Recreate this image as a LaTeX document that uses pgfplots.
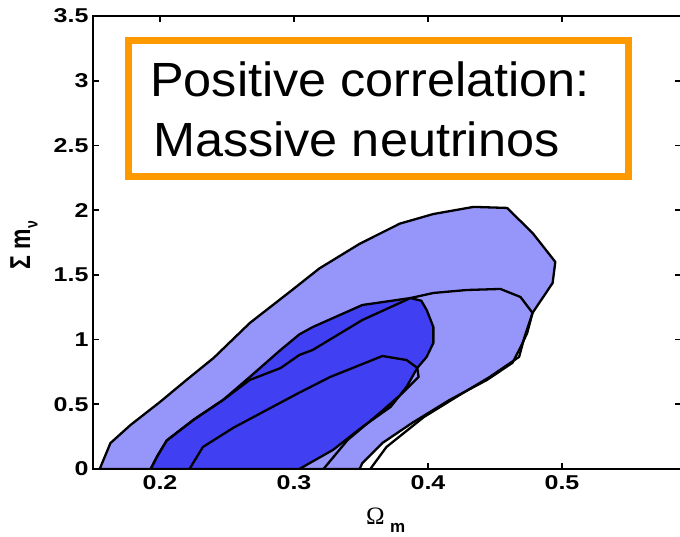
\documentclass[border=0pt]{standalone}
\usepackage{fontspec}
\usepackage{graphicx}
\usepackage{pgfplots}
\pgfplotsset{compat=1.18}
\setmainfont{Liberation Sans}
\newfontfamily\tickfont[FakeStretch=1.25]{Liberation Sans}
\newfontfamily\boxfont[FakeStretch=1.05]{Liberation Sans}
\newfontfamily\seriffont{Liberation Serif}
\definecolor{lightfill}{RGB}{150,150,250}
\definecolor{darkfill}{RGB}{64,64,242}
\definecolor{boxorange}{RGB}{255,153,0}

\begin{document}
\begin{tikzpicture}[x=1pt,y=1pt]
\begin{axis}[
  at={(93pt,68pt)}, anchor=south west,
  scale only axis, width=588pt, height=453pt,
  xmin=0.15, xmax=0.5888, ymin=0, ymax=3.5,
  xtick={0.2,0.3,0.4,0.5},
  ytick={0,0.5,1,1.5,2,2.5,3,3.5},
  tick align=inside, major tick length=6pt,
  axis line style={line width=2.6pt},
  every tick/.style={black, line width=1.8pt},
  /pgf/number format/assume math mode=true,
  tick label style={font=\tickfont\bfseries\fontsize{20}{20}\selectfont},
  xticklabel style={yshift=-3pt},
  yticklabel style={xshift=-1pt},
  clip=true,
]
% outer light region (95%)
\addplot[fill=lightfill, draw=black, line width=2.3pt, line join=round] coordinates {
(0.155,0) (0.159,0.1) (0.163,0.2) (0.178,0.34) (0.2,0.518) (0.22,0.69) (0.24,0.858)
(0.267,1.128) (0.297,1.37) (0.319,1.55) (0.349,1.74) (0.379,1.896) (0.404,1.97)
(0.434,2.025) (0.459,2.017) (0.478,1.824) (0.495,1.6) (0.493,1.437) (0.478,1.206)
(0.474,1.05) (0.469,0.94) (0.463,0.82) (0.444,0.688) (0.416,0.533) (0.388,0.355)
(0.366,0.201) (0.351,0.046) (0.349,0) (0.155,0)
};
% inner dark region (68%)
\addplot[fill=darkfill, draw=black, line width=2.3pt, line join=round] coordinates {
(0.193,0) (0.198,0.1) (0.205,0.22) (0.225,0.38) (0.247,0.533) (0.267,0.711)
(0.29,0.92) (0.304,1.04) (0.314,1.097) (0.351,1.267) (0.387,1.321) (0.395,1.3)
(0.399,1.229) (0.404,1.097) (0.404,0.974) (0.399,0.866) (0.392,0.781) (0.384,0.634)
(0.372,0.479) (0.351,0.325) (0.329,0.147) (0.304,0) (0.193,0)
};
% second set, 95% line
\addplot[draw=black, line width=2.3pt, line join=round] coordinates {
(0.193,0) (0.198,0.1) (0.205,0.22) (0.225,0.38) (0.247,0.533) (0.267,0.688)
(0.29,0.78) (0.304,0.881) (0.314,0.92) (0.351,1.151) (0.387,1.321) (0.404,1.36)
(0.429,1.383) (0.454,1.391) (0.469,1.329) (0.478,1.206) (0.472,1.02) (0.468,0.866)
(0.446,0.711) (0.426,0.587) (0.397,0.402) (0.369,0.17) (0.358,0.015) (0.357,0)
};
% second set, 68% line
\addplot[draw=black, line width=2.3pt, line join=round] coordinates {
(0.222,0) (0.232,0.17) (0.255,0.32) (0.284,0.48) (0.304,0.59) (0.327,0.711)
(0.366,0.873) (0.384,0.842) (0.392,0.781) (0.393,0.711) (0.381,0.587) (0.364,0.433)
(0.34,0.224) (0.322,0)
};
\end{axis}
% axis labels
\node[rotate=90, anchor=center] at (24,292) {\bfseries\fontsize{23}{23}\selectfont \scalebox{1}[1.25]{Σ m\raisebox{-6pt}{\fontsize{14}{14}\selectfont ν}}};
\node[anchor=base west, inner sep=0pt] at (366,12) {\seriffont\fontsize{25}{25}\selectfont Ω};
\node[anchor=base west, inner sep=0pt] at (390,4) {\bfseries\fontsize{17}{17}\selectfont m};
% annotation box
\draw[boxorange, line width=7pt, fill=white] (128.5,496.5) rectangle (628.5,360.5);
\node[anchor=base west, inner sep=0pt] at (150,440) {\boxfont\fontsize{48}{48}\selectfont Positive correlation:};
\node[anchor=base west, inner sep=0pt] at (153,380) {\boxfont\fontsize{48}{48}\selectfont Massive neutrinos};
\pgfresetboundingbox
\path[use as bounding box] (0,0) rectangle (680,537);
\end{tikzpicture}
\end{document}
